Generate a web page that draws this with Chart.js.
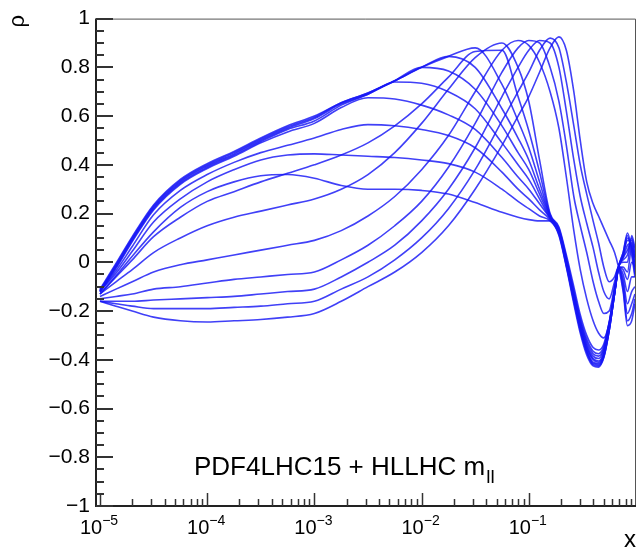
<!DOCTYPE html>
<html><head><meta charset="utf-8">
<script src="https://cdn.jsdelivr.net/npm/chart.js@4.4.1/dist/chart.umd.min.js"></script>
<style>html,body{margin:0;padding:0;background:#fff}#wrap{width:638px;height:551px}</style>
</head><body><div id="wrap"><canvas id="c" width="638" height="551"></canvas></div>
<script>
// x positions (momentum fraction x)
const xs = [1e-5, 1.41e-5, 2e-5, 3.16e-5, 5.62e-5, 1e-4, 1.78e-4, 3.16e-4, 5.62e-4, 1e-3,
  1.78e-3, 3.16e-3, 5.62e-3, 0.01, 0.0178, 0.0316, 0.0562, 0.0794, 0.1, 0.126,
  0.158, 0.191, 0.224, 0.263, 0.302, 0.347, 0.398, 0.447, 0.501, 0.562,
  0.631, 0.687, 0.759, 0.832, 0.912, 0.977];

// correlation curves rho(x), one per m_ll bin
const rho00 = [-0.13,-0.055,0.025,0.125,0.225,0.29,0.33,0.355,0.36,0.345,0.315,0.30,0.30,0.295,0.28,0.245,0.205,0.185,0.175,0.17,0.17,0.11,-0.02,-0.17,-0.29,-0.38,-0.425,-0.43,-0.39,-0.28,-0.13,-0.02,0.04,0.11,0.03,-0.06];
const rho01 = [-0.12,-0.045,0.045,0.165,0.26,0.33,0.38,0.42,0.44,0.445,0.44,0.435,0.43,0.42,0.405,0.37,0.30,0.25,0.22,0.19,0.17,0.115,-0.015,-0.16,-0.28,-0.37,-0.42,-0.425,-0.39,-0.28,-0.13,-0.02,0.04,0.12,0.05,-0.05];
const rho02 = [-0.12,-0.035,0.065,0.195,0.295,0.36,0.41,0.45,0.48,0.51,0.545,0.565,0.56,0.545,0.52,0.47,0.37,0.30,0.26,0.215,0.175,0.12,-0.01,-0.155,-0.275,-0.365,-0.415,-0.42,-0.385,-0.28,-0.13,-0.02,0.03,0.10,0.06,-0.03];
const rho03 = [-0.12,-0.025,0.085,0.215,0.32,0.385,0.435,0.49,0.535,0.57,0.635,0.675,0.67,0.645,0.605,0.545,0.43,0.35,0.30,0.24,0.18,0.12,-0.005,-0.15,-0.27,-0.36,-0.41,-0.415,-0.38,-0.275,-0.13,-0.02,0.03,0.09,0.07,-0.02];
const rho04 = [-0.12,-0.02,0.09,0.22,0.325,0.39,0.44,0.495,0.545,0.58,0.645,0.69,0.74,0.735,0.70,0.63,0.49,0.40,0.34,0.26,0.18,0.125,0.0,-0.145,-0.26,-0.35,-0.40,-0.41,-0.375,-0.27,-0.125,-0.02,0.02,0.07,0.08,0.0];
const rho05 = [-0.115,-0.015,0.095,0.225,0.33,0.395,0.445,0.50,0.55,0.59,0.65,0.69,0.745,0.80,0.785,0.71,0.56,0.45,0.38,0.28,0.185,0.13,0.005,-0.14,-0.255,-0.345,-0.395,-0.405,-0.37,-0.265,-0.125,-0.02,0.02,0.05,0.09,0.02];
const rho06 = [-0.115,-0.01,0.10,0.23,0.335,0.40,0.45,0.505,0.555,0.595,0.655,0.695,0.745,0.80,0.845,0.80,0.63,0.51,0.42,0.30,0.19,0.13,0.01,-0.13,-0.245,-0.335,-0.385,-0.395,-0.36,-0.26,-0.12,-0.02,0.01,0.03,0.10,0.04];
const rho07 = [-0.11,-0.005,0.105,0.235,0.34,0.405,0.455,0.51,0.56,0.60,0.655,0.695,0.745,0.80,0.845,0.88,0.73,0.58,0.47,0.33,0.19,0.135,0.015,-0.125,-0.24,-0.325,-0.375,-0.385,-0.355,-0.255,-0.12,-0.02,0.0,0.0,0.11,0.06];
const rho08 = [-0.13,-0.06,0.01,0.105,0.185,0.25,0.29,0.33,0.365,0.40,0.44,0.49,0.56,0.65,0.76,0.865,0.87,0.68,0.54,0.37,0.195,0.14,0.02,-0.115,-0.23,-0.315,-0.365,-0.375,-0.345,-0.25,-0.115,-0.02,-0.02,-0.04,0.06,0.02];
const rho09 = [-0.13,-0.08,-0.03,0.04,0.10,0.15,0.185,0.21,0.235,0.26,0.30,0.36,0.45,0.57,0.71,0.84,0.90,0.80,0.66,0.42,0.20,0.145,0.03,-0.10,-0.215,-0.30,-0.35,-0.36,-0.335,-0.245,-0.11,-0.02,-0.03,-0.07,0.0,-0.02];
const rho10 = [-0.14,-0.11,-0.08,-0.04,-0.01,0.01,0.03,0.05,0.07,0.09,0.13,0.19,0.27,0.38,0.52,0.70,0.87,0.91,0.89,0.82,0.70,0.55,0.35,0.13,-0.03,-0.15,-0.24,-0.29,-0.31,-0.25,-0.12,-0.02,-0.05,-0.12,-0.06,-0.06];
const rho11 = [-0.15,-0.14,-0.13,-0.11,-0.10,-0.085,-0.07,-0.06,-0.05,-0.04,0.01,0.07,0.15,0.25,0.39,0.57,0.78,0.88,0.91,0.90,0.80,0.66,0.48,0.27,0.15,0.04,-0.08,-0.16,-0.21,-0.20,-0.10,-0.02,-0.07,-0.17,-0.12,-0.10];
const rho12 = [-0.16,-0.16,-0.16,-0.155,-0.15,-0.145,-0.14,-0.13,-0.12,-0.11,-0.06,0.0,0.07,0.17,0.30,0.47,0.68,0.80,0.87,0.91,0.90,0.80,0.62,0.42,0.27,0.16,0.06,-0.04,-0.12,-0.15,-0.08,-0.02,-0.09,-0.21,-0.17,-0.13];
const rho13 = [-0.16,-0.17,-0.18,-0.19,-0.19,-0.19,-0.185,-0.18,-0.17,-0.16,-0.11,-0.06,0.01,0.10,0.22,0.38,0.58,0.70,0.78,0.87,0.92,0.88,0.74,0.56,0.40,0.28,0.17,0.08,-0.02,-0.08,-0.06,-0.02,-0.11,-0.24,-0.21,-0.15];
const rho14 = [-0.16,-0.18,-0.20,-0.225,-0.24,-0.245,-0.24,-0.235,-0.225,-0.21,-0.16,-0.10,-0.04,0.04,0.15,0.30,0.48,0.60,0.68,0.78,0.88,0.925,0.87,0.70,0.50,0.33,0.24,0.19,0.14,0.09,0.04,-0.02,-0.12,-0.26,-0.24,-0.17];

const curves = [rho00,rho01,rho02,rho03,rho04,rho05,rho06,rho07,rho08,rho09,rho10,rho11,rho12,rho13,rho14];

// axis tick labels
const yTicks = [1, 0.8, 0.6, 0.4, 0.2, 0, -0.2, -0.4, -0.6, -0.8, -1];
const xDecades = [1e-5, 1e-4, 1e-3, 1e-2, 1e-1];
const xDecadeExp = ['\u22125', '\u22124', '\u22123', '\u22122', '\u22121'];
const labelText = 'PDF4LHC15 + HLLHC m';
const labelSub = 'll';
const yTitle = '\u03c1';
const xTitle = 'x';

const FONT = "'Liberation Sans', Arial, Helvetica, sans-serif";
const LINE = 'rgba(22,22,245,0.82)';

const datasets = curves.map(c => ({
  data: xs.map((x, i) => ({x: x, y: c[i]})),
  borderColor: LINE, borderWidth: 1.6, pointRadius: 0,
  fill: false, tension: 0.4, cubicInterpolationMode: 'monotone'
}));

const decor = {
  id: 'decor',
  afterDraw(chart) {
    const ctx = chart.ctx, a = chart.chartArea;
    const sx = chart.scales.x, sy = chart.scales.y;
    ctx.save();
    // frame
    ctx.strokeStyle = '#555'; ctx.lineWidth = 1;
    ctx.beginPath();
    ctx.moveTo(a.left, a.top + 0.5); ctx.lineTo(a.right - 0.5, a.top + 0.5); ctx.lineTo(a.right - 0.5, a.bottom);
    ctx.stroke();
    ctx.strokeStyle = '#222'; ctx.lineWidth = 2;
    ctx.beginPath();
    ctx.moveTo(a.left, a.top); ctx.lineTo(a.left, a.bottom); ctx.lineTo(a.right, a.bottom);
    ctx.stroke();
    // y ticks (inside)
    ctx.lineWidth = 2; ctx.strokeStyle = '#333';
    for (let i = 0; i <= 40; i++) {
      const v = -1 + i * 0.05;
      const py = Math.round(sy.getPixelForValue(v));
      const len = (i % 4 === 0) ? 17 : 8;
      ctx.beginPath(); ctx.moveTo(a.left, py); ctx.lineTo(a.left + len, py); ctx.stroke();
    }
    // x ticks (inside)
    ctx.lineWidth = 1.5;
    for (let d = -5; d <= 0; d++) {
      for (let m = 1; m <= 9; m++) {
        const v = m * Math.pow(10, d);
        if (v > 1.0001) break;
        const px = Math.round(sx.getPixelForValue(v)) + 0.5;
        if (px < a.left || px > a.right) continue;
        const len = (m === 1) ? 13 : 7;
        ctx.beginPath(); ctx.moveTo(px, a.bottom); ctx.lineTo(px, a.bottom - len); ctx.stroke();
      }
    }
    // x labels 10^n
    ctx.fillStyle = '#000'; ctx.textBaseline = 'alphabetic';
    xDecades.forEach((v, i) => {
      const px = sx.getPixelForValue(v);
      ctx.font = '20px ' + FONT;
      const w1 = ctx.measureText('10').width;
      ctx.font = '14px ' + FONT;
      const w2 = ctx.measureText(xDecadeExp[i]).width;
      const x0 = px - (w1 + w2) / 2 - 1;
      ctx.font = '20px ' + FONT; ctx.textAlign = 'left';
      ctx.fillText('10', x0, 534);
      ctx.font = '14px ' + FONT;
      ctx.fillText(xDecadeExp[i], x0 + w1, 525);
    });
    // annotation
    ctx.font = '26px ' + FONT; ctx.textAlign = 'left';
    ctx.fillText(labelText, 194, 475);
    const w = ctx.measureText(labelText).width;
    ctx.font = '19px ' + FONT;
    ctx.fillText(labelSub, 194 + w + 1, 483);
    // axis titles
    ctx.font = '24px ' + FONT; ctx.textAlign = 'right';
    ctx.fillText(xTitle, 636, 547);
    ctx.save();
    ctx.translate(24, 15); ctx.rotate(-Math.PI / 2);
    ctx.font = '22px ' + FONT; ctx.textAlign = 'right';
    ctx.fillText(yTitle, 0, 0);
    ctx.restore();
    ctx.restore();
  }
};

new Chart(document.getElementById('c'), {
  type: 'line',
  data: { datasets },
  options: {
    responsive: false, animation: false, devicePixelRatio: 1,
    layout: { padding: { top: 15, right: 2, left: 0, bottom: 0 } },
    plugins: { legend: { display: false }, tooltip: { enabled: false } },
    scales: {
      x: {
        type: 'logarithmic', min: 9.18e-6, max: 1, position: 'bottom',
        grid: { display: false, drawTicks: false, tickLength: 0 },
        border: { display: false },
        ticks: { display: false },
        afterFit(s) { s.height = 45; }
      },
      y: {
        type: 'linear', min: -1, max: 1, position: 'left',
        grid: { display: false, drawTicks: false, tickLength: 0 },
        border: { display: false },
        afterBuildTicks(s) { s.ticks = yTicks.map(v => ({ value: v })); },
        ticks: {
          color: '#000', padding: 6, autoSkip: false,
          font: { family: FONT, size: 21 },
          callback(v) {
            const r = Math.round(v * 10) / 10;
            if (r === 0) return '0';
            return (r < 0 ? '\u2212' : '') + String(Math.abs(r));
          }
        },
        afterFit(s) { s.width = 96; }
      }
    }
  },
  plugins: [decor]
});
</script>
</body></html>
